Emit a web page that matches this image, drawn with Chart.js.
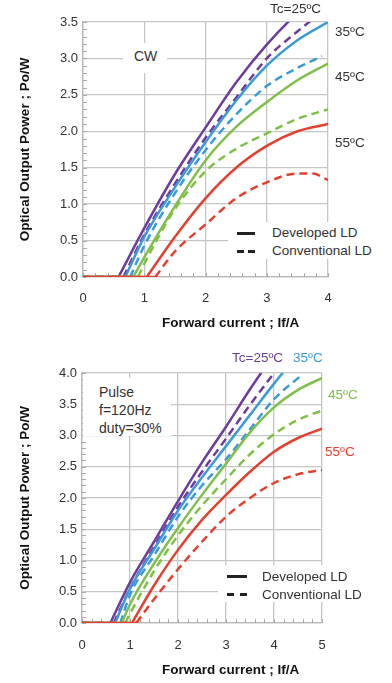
<!DOCTYPE html>
<html>
<head>
<meta charset="utf-8">
<script src="https://cdn.jsdelivr.net/npm/chart.js@4.4.1/dist/chart.umd.min.js"></script>
<style>
  html, body { margin: 0; padding: 0; background: #fff; }
  body { width: 392px; height: 683px; position: relative; overflow: hidden; font-family: "Liberation Sans", Arial, sans-serif; }
  canvas { position: absolute; left: 0; }
  #cwChart { top: 0; }
  #pulseChart { top: 340px; }
  .lbl { position: absolute; font-size: 13.5px; line-height: 16px; color: #333; white-space: nowrap; }
  .xtitle { position: absolute; font-size: 13.5px; line-height: 16px; font-weight: bold; color: #111; white-space: nowrap; }
  .box { position: absolute; background: #fff; }
  .key { position: absolute; height: 3px; background: #222; }
</style>
</head>
<body>
<canvas id="cwChart" width="392" height="340"></canvas>
<canvas id="pulseChart" width="392" height="343"></canvas>

<!-- CW panel annotations -->
<div class="box" style="left:123px;top:43px;width:44px;height:30px;"></div>
<div class="lbl" style="left:134px;top:48px;font-size:14px;">CW</div>
<div class="lbl" style="left:270px;top:1px;">Tc=25ºC</div>
<div class="lbl" style="left:335px;top:24px;">35ºC</div>
<div class="lbl" style="left:335px;top:69px;">45ºC</div>
<div class="lbl" style="left:335px;top:135px;">55ºC</div>
<div class="box" style="left:228px;top:222px;width:150px;height:37px;"></div>
<div class="key" style="left:237px;top:232px;width:18px;"></div>
<div class="key" style="left:237px;top:250px;width:7px;"></div>
<div class="key" style="left:248px;top:250px;width:7px;"></div>
<div class="lbl" style="left:272px;top:225px;">Developed LD</div>
<div class="lbl" style="left:272px;top:243px;">Conventional LD</div>
<div class="xtitle" style="left:162px;top:315px;">Forward current ; If/A</div>

<!-- Pulse panel annotations -->
<div class="box" style="left:83px;top:378px;width:88px;height:58px;"></div>
<div class="lbl" style="left:99px;top:384px;font-size:14px;">Pulse</div>
<div class="lbl" style="left:99px;top:402px;font-size:14px;">f=120Hz</div>
<div class="lbl" style="left:99px;top:420px;font-size:14px;">duty=30%</div>
<div class="lbl" style="left:232px;top:350px;color:#6c3d9e;">Tc=25ºC</div>
<div class="lbl" style="left:293px;top:350px;color:#3b9bd6;">35ºC</div>
<div class="lbl" style="left:328px;top:387px;color:#7fc04a;">45ºC</div>
<div class="lbl" style="left:325px;top:444px;color:#e4402f;">55ºC</div>
<div class="box" style="left:218px;top:565px;width:150px;height:37px;"></div>
<div class="key" style="left:227px;top:575px;width:20px;"></div>
<div class="key" style="left:227px;top:593px;width:7px;"></div>
<div class="key" style="left:240px;top:593px;width:7px;"></div>
<div class="lbl" style="left:262px;top:569px;">Developed LD</div>
<div class="lbl" style="left:262px;top:587px;">Conventional LD</div>
<div class="xtitle" style="left:162px;top:662px;">Forward current ; If/A</div>

<script>
// Each curve is 0 W from 0 A up to its threshold (first pair), then rises.
// CW curves, [forward current A, optical power W]
const cw25Dev  = [[0.58,0],[1,0.67],[1.5,1.41],[2,2.05],[2.5,2.67],[3,3.19],[3.5,3.62],[4,3.95]];
const cw25Conv = [[0.66,0],[1,0.58],[1.5,1.28],[2,1.91],[2.5,2.46],[3,3.0],[3.5,3.37],[4,3.7]];
const cw35Dev  = [[0.69,0],[1,0.55],[1.5,1.23],[2,1.85],[2.5,2.42],[3,2.9],[3.5,3.25],[4,3.5]];
const cw35Conv = [[0.77,0],[1,0.43],[1.5,1.15],[2,1.74],[2.5,2.23],[3,2.62],[3.5,2.87],[3.9,3.03]];
const cw45Dev  = [[0.82,0],[1,0.27],[1.5,0.97],[2,1.6],[2.5,2.06],[3,2.4],[3.5,2.7],[4,2.93]];
const cw45Conv = [[0.9,0],[1,0.18],[1.5,0.93],[2,1.45],[2.5,1.76],[3,1.97],[3.5,2.17],[4,2.3]];
const cw55Dev  = [[1.04,0],[1.5,0.55],[2,1.08],[2.5,1.5],[3,1.8],[3.5,2.0],[4,2.1]];
const cw55Conv = [[1.18,0],[1.5,0.35],[2,0.72],[2.5,1.08],[3,1.3],[3.5,1.42],[3.75,1.42],[4,1.33]];

// Pulse curves
const pl25Dev  = [[0.59,0],[1,0.65],[1.5,1.3],[2,1.95],[2.5,2.57],[3,3.14],[3.5,3.74],[4,4.3]];
const pl25Conv = [[0.66,0],[1,0.55],[1.5,1.22],[2,1.86],[2.5,2.42],[3,2.95],[3.5,3.49],[4,4.0]];
const pl35Dev  = [[0.69,0],[1,0.55],[1.5,1.18],[2,1.8],[2.5,2.33],[3,2.83],[3.5,3.33],[4,3.83],[4.5,4.3]];
const pl35Conv = [[0.8,0],[1,0.45],[1.5,1.08],[2,1.7],[2.5,2.2],[3,2.62],[3.5,3.1],[4,3.58],[4.58,3.97]];
const pl45Dev  = [[0.83,0],[1,0.3],[1.5,0.95],[2,1.52],[2.5,2.05],[3,2.55],[3.5,3.05],[4,3.45],[4.5,3.73],[5,3.92]];
const pl45Conv = [[0.9,0],[1,0.15],[1.5,0.83],[2,1.4],[2.5,1.88],[3,2.3],[3.5,2.7],[4,3.02],[4.5,3.25],[5,3.4]];
const pl55Dev  = [[1.04,0],[1.5,0.6],[2,1.17],[2.5,1.65],[3,2.05],[3.5,2.42],[4,2.74],[4.5,2.96],[5,3.11]];
const pl55Conv = [[1.13,0],[1.5,0.38],[2,0.86],[2.5,1.3],[3,1.7],[3.5,2.0],[4,2.24],[4.5,2.38],[5,2.45]];

const temps = ['25', '35', '45', '55'];
const colors = ['#6c3d9e', '#3b9bd6', '#7fc04a', '#e4402f'];

Chart.defaults.font.family = '"Liberation Sans", Arial, sans-serif';

// small inward ticks on left and bottom edges
const minorTicks = {
    id: 'minorTicks',
    beforeDatasetsDraw(chart, args, opts) {
        const {ctx, chartArea, scales: {x, y}} = chart;
        ctx.save();
        ctx.strokeStyle = '#aaa';
        ctx.lineWidth = 1;
        ctx.beginPath();
        for (let v = x.min; v <= x.max + 1e-6; v += opts.xStep) {
            const px = Math.round(x.getPixelForValue(v)) + 0.5;
            ctx.moveTo(px, chartArea.bottom);
            ctx.lineTo(px, chartArea.bottom - 4);
        }
        for (let v = y.min; v <= y.max + 1e-6; v += opts.yStep) {
            const py = Math.round(y.getPixelForValue(v)) + 0.5;
            ctx.moveTo(chartArea.left, py);
            ctx.lineTo(chartArea.left + 4, py);
        }
        ctx.stroke();
        ctx.restore();
    }
};

function toSet(points, i, dashed) {
    const thr = points[0][0];
    // flat part, then a break so the rising part starts with a sharp knee
    const data = [{x: 0, y: 0}, {x: thr, y: 0}, {x: thr, y: null}]
        .concat(points.map(([x, y]) => ({x, y})));
    return {
        label: 'Tc=' + temps[i] + 'ºC ' + (dashed ? 'Conventional LD' : 'Developed LD'),
        data: data,
        borderColor: colors[i],
        borderWidth: 2.5,
        borderDash: dashed ? [8, 5] : [],
        borderCapStyle: dashed ? 'butt' : 'round',
        pointRadius: 0,
        cubicInterpolationMode: 'monotone',
        order: 3 - i
    };
}

function makeChart(id, sets, xMax, yMax, box) {
    const grid = {color: '#c6c6c6', lineWidth: 1.3, drawTicks: false};
    const border = {color: '#b8b8b8', width: 1.3};
    return new Chart(document.getElementById(id), {
        type: 'line',
        data: {datasets: sets},
        options: {
            responsive: false,
            animation: false,
            layout: {padding: {top: box.top, right: box.right, left: 0, bottom: 0}},
            scales: {
                x: {
                    type: 'linear', min: 0, max: xMax,
                    ticks: {stepSize: 1, color: '#333', font: {size: 13}, padding: box.xPad},
                    grid: grid, border: border,
                    afterFit: s => { s.height = box.xH; }
                },
                y: {
                    min: 0, max: yMax,
                    ticks: {stepSize: 0.5, color: '#333', font: {size: 13}, padding: 5,
                        callback: v => v.toFixed(1)},
                    grid: grid, border: border,
                    title: {display: true, text: 'Optical Output Power ; Po/W', color: '#111',
                        font: {size: 13.5, weight: 'bold'}, padding: {top: 17, bottom: 0}},
                    afterFit: s => { s.width = box.yW; }
                }
            },
            plugins: {
                legend: {display: false},
                tooltip: {enabled: false},
                minorTicks: {xStep: 0.2, yStep: 0.1}
            }
        },
        plugins: [minorTicks]
    });
}

const cwSets = [
    toSet(cw25Dev, 0, false), toSet(cw25Conv, 0, true),
    toSet(cw35Dev, 1, false), toSet(cw35Conv, 1, true),
    toSet(cw45Dev, 2, false), toSet(cw45Conv, 2, true),
    toSet(cw55Dev, 3, false), toSet(cw55Conv, 3, true)
];
const pulseSets = [
    toSet(pl25Dev, 0, false), toSet(pl25Conv, 0, true),
    toSet(pl35Dev, 1, false), toSet(pl35Conv, 1, true),
    toSet(pl45Dev, 2, false), toSet(pl45Conv, 2, true),
    toSet(pl55Dev, 3, false), toSet(pl55Conv, 3, true)
];

makeChart('cwChart', cwSets, 4, 3.5, {top: 22, right: 64, yW: 83, xH: 63, xPad: 14});
makeChart('pulseChart', pulseSets, 5, 4, {top: 33, right: 70, yW: 82, xH: 60, xPad: 15});
</script>
</body>
</html>
